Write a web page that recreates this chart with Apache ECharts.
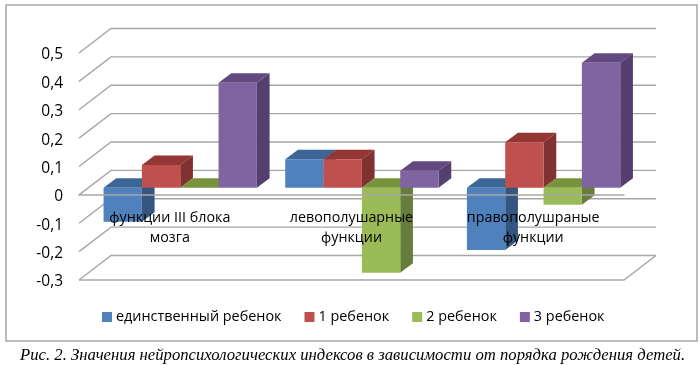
<!DOCTYPE html>
<html>
<head>
<meta charset="utf-8">
<style>
  html, body { margin: 0; padding: 0; background: #fff; }
  #chart { width: 700px; height: 365px; }
</style>
<script src="https://cdn.jsdelivr.net/npm/echarts@6/dist/echarts.min.js"></script>
</head>
<body>
<div id="chart"></div>
<script>
var categories = ["функции III блока\nмозга", "левополушарные\nфункции", "правополушраные\nфункции"];
var seriesNames = ["единственный ребенок", "1 ребенок", "2 ребенок", "3 ребенок"];
var onlyChild = [-0.12, 0.10, -0.22];
var child1 = [0.08, 0.10, 0.16];
var child2 = [0, -0.30, -0.06];
var child3 = [0.37, 0.06, 0.44];
var yTicks = [0.5, 0.4, 0.3, 0.2, 0.1, 0, -0.1, -0.2, -0.3];
var caption = "Рис. 2. Значения нейропсихологических индексов в зависимости от порядка рождения детей.";

var faces = [
  { front: "#4F81BD", top: "#3C6695", side: "#34567F" },
  { front: "#C0504D", top: "#943634", side: "#7F3230" },
  { front: "#9BBB59", top: "#77933C", side: "#677D3B" },
  { front: "#8064A2", top: "#624A80", side: "#543F70" }
];
var lineColor = "#A6A6A6";

function bar3d(seriesIndex) {
  return function (params, api) {
    var band = api.size([1, 0])[0];
    var center = api.coord([api.value(0), 0])[0];
    var zero = api.coord([api.value(0), 0])[1] - 7.2;
    var val = api.coord([api.value(0), api.value(1)])[1] - 7.2;
    var w = band * 0.211;
    var x = center + band * 0.0572 - w * 2 + w * seriesIndex;
    var topY = Math.min(zero, val);
    var botY = Math.max(zero, val);
    var dx = 12.7, dy = -9.5;
    return {
      type: "group",
      children: [
        { type: "polygon", shape: { points: [[x, topY], [x + dx, topY + dy], [x + w + dx, topY + dy], [x + w, topY]] }, style: { fill: faces[seriesIndex].top } },
        { type: "polygon", shape: { points: [[x + w, topY], [x + w + dx, topY + dy], [x + w + dx, botY + dy], [x + w, botY]] }, style: { fill: faces[seriesIndex].side } },
        { type: "rect", shape: { x: x, y: topY, width: w, height: botY - topY }, style: { fill: faces[seriesIndex].front } }
      ]
    };
  };
}

function wallLine(params, api) {
  var sys = params.coordSys;
  var y = api.coord([0, api.value(1)])[1];
  return {
    type: "polyline",
    shape: { points: [[sys.x, y], [sys.x + 32, y - 24.5], [sys.x + sys.width + 32, y - 24.5]] },
    style: { fill: null, stroke: lineColor, lineWidth: 1.4 }
  };
}

function floorEdge(params, api) {
  var sys = params.coordSys;
  var y = api.coord([0, api.value(1)])[1];
  return {
    type: "polyline",
    shape: { points: [[sys.x, y], [sys.x + sys.width, y], [sys.x + sys.width + 32, y - 24.5]] },
    style: { fill: null, stroke: lineColor, lineWidth: 1.4 }
  };
}

function pairs(values) {
  return values.map(function (v, i) { return [i, v]; });
}

var series = [
  { type: "custom", name: "walls", renderItem: wallLine, data: yTicks.map(function (t) { return [0, t]; }), encode: { x: 0, y: 1 }, silent: true, z: 1 },
  { type: "custom", name: "floor", renderItem: floorEdge, data: [[0, yTicks[yTicks.length - 1]]], encode: { x: 0, y: 1 }, silent: true, z: 1 }
];
[onlyChild, child1, child2, child3].forEach(function (values, i) {
  series.push({
    type: "custom",
    name: seriesNames[i],
    renderItem: bar3d(i),
    data: pairs(values),
    encode: { x: 0, y: 1 },
    itemStyle: { color: faces[i].front },
    z: 3
  });
});

var chart = echarts.init(document.getElementById("chart"));
chart.setOption({
  animation: false,
  backgroundColor: "#fff",
  title: {
    text: caption,
    left: 20,
    top: 347,
    padding: 0,
    textStyle: { fontFamily: "Liberation Serif", fontStyle: "italic", fontWeight: "normal", fontSize: 16.7, color: "#000" }
  },
  legend: {
    data: seriesNames,
    left: 102,
    top: 310,
    padding: 0,
    icon: "rect",
    itemWidth: 10,
    itemHeight: 10,
    itemGap: 23,
    textStyle: { fontFamily: "Open Sans", fontSize: 14.4, color: "#000", padding: [0, 0, 0, -1] }
  },
  graphic: [
    { type: "rect", shape: { x: 6, y: 5, width: 691, height: 336 }, style: { fill: null, stroke: lineColor, lineWidth: 1.5 }, z: 0 }
  ],
  grid: { left: 79, right: 76, top: 53, height: 227 },
  xAxis: {
    type: "category",
    data: categories,
    z: 10,
    axisTick: { show: false },
    axisLine: { onZero: true, lineStyle: { color: lineColor, width: 1.5 } },
    // labels sit just under the zero line, over the bars
    axisLabel: { interval: 0, margin: -72, lineHeight: 20, fontFamily: "Open Sans", fontSize: 14.3, color: "#000" }
  },
  yAxis: {
    type: "value",
    min: -0.3,
    max: 0.5,
    interval: 0.1,
    axisLine: { show: false },
    axisTick: { show: false },
    splitLine: { show: false },
    axisLabel: {
      margin: 16,
      verticalAlign: "top",
      lineHeight: 4,
      fontFamily: "Open Sans",
      fontSize: 15.5,
      color: "#000",
      formatter: function (v) {
        return Math.abs(v) < 1e-9 ? "0" : v.toFixed(1).replace(".", ",");
      }
    }
  },
  series: series
});
</script>
</body>
</html>
